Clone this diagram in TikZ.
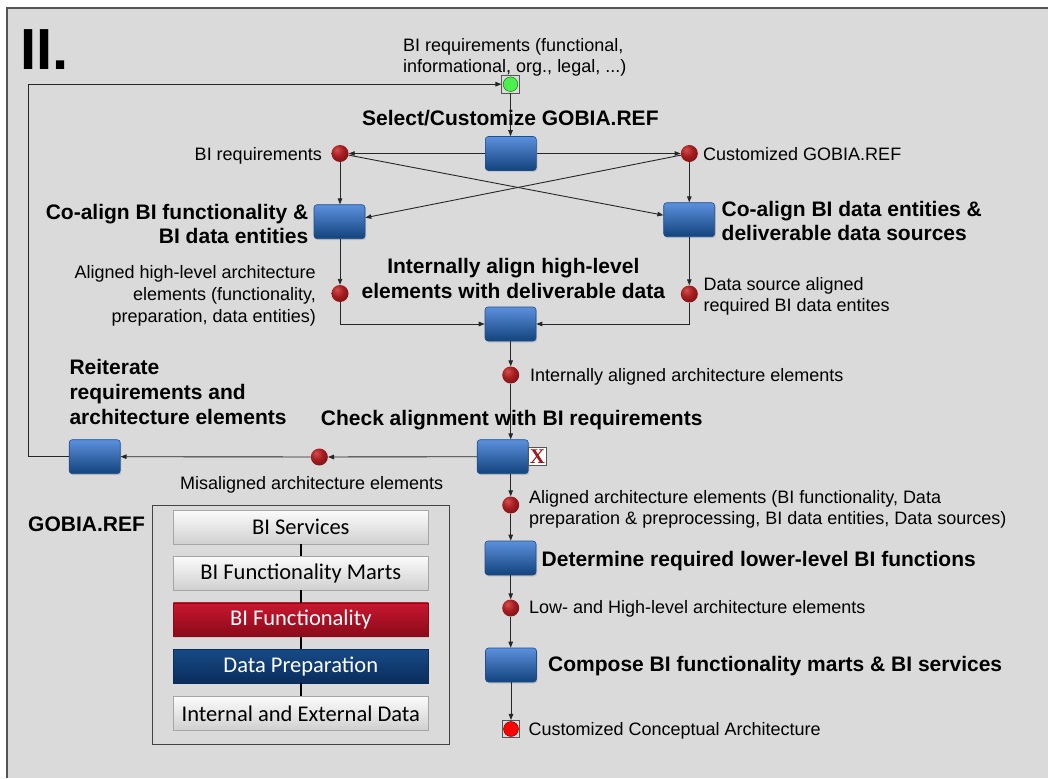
\documentclass[tikz,border=0pt]{standalone}
\usepackage{fontspec}
\setmainfont{Liberation Sans}
\newfontfamily\calib{Carlito}
\newfontfamily\serifb{Liberation Serif}
\usetikzlibrary{arrows.meta,shadows,calc}

\definecolor{bg}{HTML}{DADADA}
\definecolor{frameline}{HTML}{555555}
\definecolor{bluetop}{HTML}{5C90DD}
\definecolor{bluebot}{HTML}{12437C}
\definecolor{blueedge}{HTML}{1E4F8A}
\definecolor{ballhi}{HTML}{D2504C}
\definecolor{ballmid}{HTML}{A51C20}
\definecolor{balldk}{HTML}{6A0E10}
\definecolor{lnk}{HTML}{262626}
\definecolor{startgreen}{HTML}{4CF04C}
\definecolor{endred}{HTML}{FF0000}
\definecolor{xred}{HTML}{9E1A1A}
\definecolor{lighttop}{HTML}{FBFBFB}
\definecolor{lightbot}{HTML}{D0D0D0}
\definecolor{redtop}{HTML}{C8172F}
\definecolor{redbot}{HTML}{8A0A1A}
\definecolor{navytop}{HTML}{174A86}
\definecolor{navybot}{HTML}{0A2D5B}

\pgfdeclareradialshading{redball}{\pgfpoint{-10bp}{12bp}}{color(0bp)=(ballhi); color(18bp)=(ballmid); color(40bp)=(balldk); color(70bp)=(balldk)}

\tikzset{
  proc/.style={draw=blueedge, line width=0.6pt, rounded corners=3pt,
    minimum width=51pt, minimum height=34pt, inner sep=0pt,
    top color=bluetop, bottom color=bluebot,
    drop shadow={opacity=0.25, shadow xshift=1.2pt, shadow yshift=-1.5pt}},
  evt/.style={circle, minimum size=17pt, inner sep=0pt, shading=redball},
  startev/.style={rectangle, draw=frameline, line width=0.6pt, minimum size=17.5pt, inner sep=0pt,
    path picture={\filldraw[fill=startgreen, draw=green!40!black, line width=0.4pt] (path picture bounding box.center) circle (7.3pt);}},
  endev/.style={rectangle, draw=frameline, line width=0.6pt, minimum size=17.5pt, inner sep=0pt,
    path picture={\filldraw[fill=endred, draw=red!40!black, line width=0.4pt] (path picture bounding box.center) circle (7.5pt);}},
  xmark/.style={rectangle, draw=frameline, line width=0.6pt, fill=white, minimum size=17.5pt, inner sep=0pt,
    font=\serifb\bfseries\fontsize{21}{21}\selectfont, text=xred},
  arr/.style={draw=lnk, line width=0.9pt, -{Triangle[length=6pt,width=4.5pt]}},
  lab/.style={font=\fontsize{18}{21.5}\selectfont, inner sep=0pt, text=black},
  ttl/.style={font=\bfseries\fontsize{21}{24.5}\selectfont, inner sep=0pt, text=black},
  layer/.style={minimum width=255pt, minimum height=33.5pt, inner sep=0pt,
    font=\calib\fontsize{22.5}{22.5}\selectfont,
    drop shadow={opacity=0.2, shadow xshift=0.8pt, shadow yshift=-1.2pt}},
  lightlayer/.style={layer, top color=lighttop, bottom color=lightbot, draw=gray!70, line width=0.5pt, text=black},
  redlayer/.style={layer, top color=redtop, bottom color=redbot, draw=redbot, line width=0.5pt, text=white},
  navylayer/.style={layer, top color=navytop, bottom color=navybot, draw=navybot, line width=0.5pt, text=white},
  gframe/.style={draw=frameline!80!black, line width=1pt, minimum width=296.5pt, minimum height=238.5pt, inner sep=0pt},
  stackline/.style={draw=black, line width=1.5pt},
}

\begin{document}
\begin{tikzpicture}[x=1pt,y=-1pt]
\useasboundingbox (0,0) rectangle (1048,778);
\fill[white] (0,0) rectangle (1048,778);
\fill[bg] (7,8) rectangle (1048,778);
\draw[frameline, line width=1.5pt] (7,778) -- (7,8) -- (1048,8);

% title
\node[font=\bfseries\fontsize{58}{58}\selectfont, anchor=base west, inner sep=0pt] (tII) at (20,70) {II.};

% process boxes
\node[proc] (sel) at (510.8,153.5) {};
\node[proc] (coL) at (339.5,221.7) {};
\node[proc] (coR) at (689.2,219.7) {};
\node[proc] (inal) at (510.5,324) {};
\node[proc] (chk) at (502.7,456.7) {};
\node[proc] (reit) at (94.7,456.7) {};
\node[proc] (det) at (510.5,558) {};
\node[proc] (comp) at (511,665) {};

% events
\node[evt] (e1) at (340,153.5) {};
\node[evt] (e2) at (689.3,153.5) {};
\node[evt] (e3) at (340,293.5) {};
\node[evt] (e4) at (689.3,294) {};
\node[evt] (e5) at (510.7,375) {};
\node[evt] (e6) at (319.3,457) {};
\node[evt] (e7) at (510.7,505) {};
\node[evt] (e8) at (510.7,608) {};

\node[startev] (start) at (510.5,84.2) {};
\node[endev] (end) at (511,729) {};
\node[xmark] (xm) at (537.5,456.5) {X};

% connectors
\draw[arr] (start) -- (start |- sel.north);
\draw[arr] (sel.west) -- (e1);
\draw[arr] (sel.east) -- (e2);
\draw[arr] (e1) -- (e1 |- coL.north);
\draw[arr] (e2) -- (e2 |- coR.north);
\draw[arr] (e1) -- ([yshift=4.5pt]coR.west);
\draw[arr] (e2) -- ([yshift=4pt]coL.east);
\draw[arr] (e3 |- coL.south) -- (e3);
\draw[arr] (e4 |- coR.south) -- (e4);
\draw[arr] (e3) |- (inal.west);
\draw[arr] (e4) |- (inal.east);
\draw[arr] (e5 |- inal.south) -- (e5);
\draw[arr] (e5) -- (e5 |- chk.north);
\draw[arr] (chk.west) -- (e6);
\draw[arr] (e6) -- (reit.east);
\coordinate (fb) at (28.3,456.7);
\draw[arr] (reit.west) -- (fb) |- (start.west);
\draw[arr] (e7 |- chk.south) -- (e7);
\draw[arr] (e7) -- (e7 |- det.north);
\draw[arr] (e8 |- det.south) -- (e8);
\draw[arr] (e8) -- (e8 |- comp.north);
\draw[arr] (comp.south) -- (end.north);

% labels
\node[lab, anchor=north west, align=left, font=\fontsize{18}{21}\selectfont] (tStart) at (403,38.3) {BI requirements (functional,\\informational, org., legal, ...)};
\node[ttl, anchor=base] (tSel) at (510.4,125.5) {Select/Customize GOBIA.REF};
\node[lab, anchor=base east] (tE1) at (322,160.5) {BI requirements};
\node[lab, anchor=base west] (tE2) at (703,160.5) {Customized GOBIA.REF};
\node[ttl, anchor=north east, align=right, font=\bfseries\fontsize{21}{24}\selectfont] (tCoL) at (308.5,204) {Co-align BI functionality \&\\BI data entities};
\node[ttl, anchor=north west, align=left, font=\bfseries\fontsize{21}{24}\selectfont] (tCoR) at (721.5,201.5) {Co-align BI data entities \&\\deliverable data sources};
\node[lab, anchor=north east, align=right, font=\fontsize{18}{22}\selectfont] (tE3) at (316,265.5) {Aligned high-level architecture\\elements (functionality,\\preparation, data entities)};
\node[ttl, anchor=north, align=center, font=\bfseries\fontsize{21}{25}\selectfont] (tInal) at (513.3,258.3) {Internally align high-level\\elements with deliverable data};
\node[lab, anchor=north west, align=left, font=\fontsize{18}{21}\selectfont] (tE4) at (703.3,277) {Data source aligned\\required BI data entites};
\node[lab, anchor=base west] (tE5) at (530,381.5) {Internally aligned architecture elements};
\node[ttl, anchor=north west, align=left, font=\bfseries\fontsize{21}{25}\selectfont] (tReit) at (69.3,359) {Reiterate\\requirements and\\architecture elements};
\node[ttl, anchor=base west] (tChk) at (320.7,425) {Check alignment with BI requirements};
\node[lab, anchor=base] (tE6) at (311.7,489) {Misaligned architecture elements};
\node[lab, anchor=north west, align=left, font=\fontsize{18}{21.7}\selectfont] (tE7) at (529,489.8) {Aligned architecture elements (BI functionality, Data\\preparation \& preprocessing, BI data entities, Data sources)};
\node[ttl, anchor=base west] (tDet) at (541.5,566) {Determine required lower-level BI functions};
\node[lab, anchor=base west] (tE8) at (529,613.5) {Low- and High-level architecture elements};
\node[ttl, anchor=base west] (tComp) at (548,671.5) {Compose BI functionality marts \& BI services};
\node[lab, anchor=base west] (tEnd) at (528.3,735.7) {Customized Conceptual Architecture};
\node[ttl, anchor=base west] (tGob) at (28,531.5) {GOBIA.REF};

% GOBIA.REF stack
\node[gframe] (gref) at (300.8,624.8) {};
\node[lightlayer] (L1) at (300.8,527.3) {BI Services};
\node[lightlayer] (L2) at (300.8,573) {BI Functionality Marts};
\node[redlayer] (L3) at (300.8,619.7) {BI Functionality};
\node[navylayer] (L4) at (300.8,666.3) {Data Preparation};
\node[lightlayer] (L5) at (300.8,713.3) {Internal and External Data};
\draw[stackline] (L1.south) -- (L2.north);
\draw[stackline] (L2.south) -- (L3.north);
\draw[stackline] (L3.south) -- (L4.north);
\draw[stackline] (L4.south) -- (L5.north);
\end{tikzpicture}
\end{document}
